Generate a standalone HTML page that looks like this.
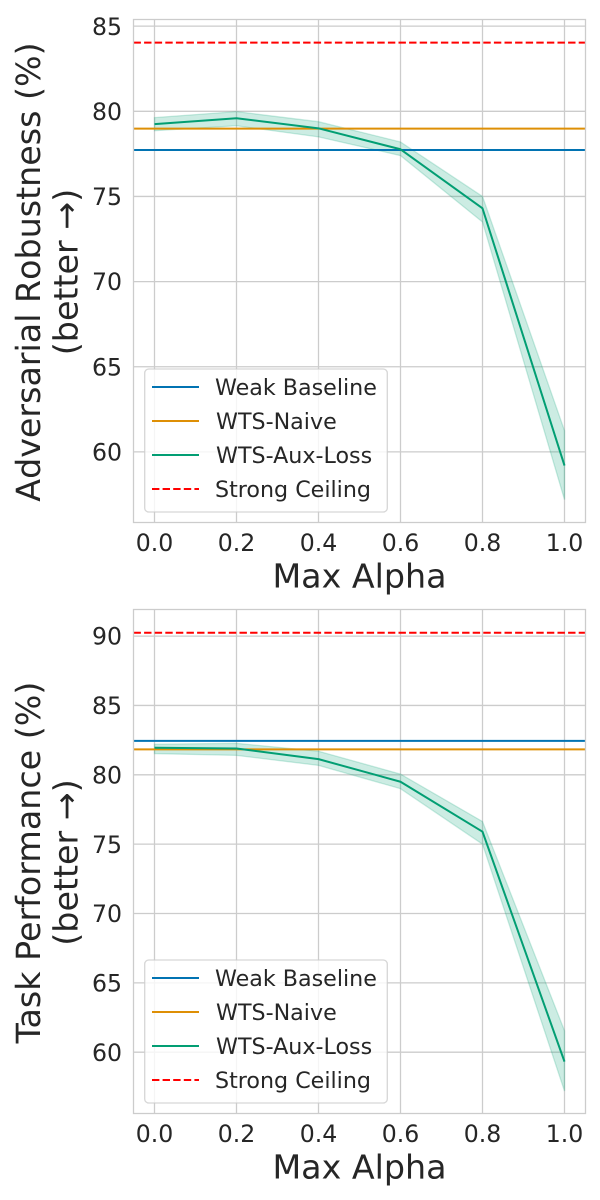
<!DOCTYPE html>
<html>
<head>
<meta charset="utf-8">
<title>Robustness and Performance vs Max Alpha</title>
<style>
html,body{margin:0;padding:0;background:#fff;width:600px;height:1200px;overflow:hidden}
svg{display:block}
text{font-family:"DejaVu Sans","Liberation Sans",sans-serif;fill:#262626}
.ytitle{text-rendering:geometricPrecision}
.nokern{font-kerning:none}
.kern{font-kerning:normal}
</style>
</head>
<body>
<svg id="chart" xmlns="http://www.w3.org/2000/svg" width="600" height="1200" viewBox="0 0 600 1200"></svg>
<script>
const alphas = [0.0, 0.2, 0.4, 0.6, 0.8, 1.0];
const xTickLabels = ["0.0", "0.2", "0.4", "0.6", "0.8", "1.0"];
const legendLabels = ["Weak Baseline", "WTS-Naive", "WTS-Aux-Loss", "Strong Ceiling"];

const robustnessTicks = [60, 65, 70, 75, 80, 85];
const robustnessMean = [79.25, 79.59, 79.0, 77.77, 74.3, 59.2];
const robustnessUpper = [79.63, 79.98, 79.39, 78.2, 75.0, 61.25];
const robustnessLower = [78.86, 79.15, 78.5, 77.4, 73.5, 57.2];
const robustnessWeak = 77.73;
const robustnessNaive = 78.98;
const robustnessCeiling = 84.03;

const performanceTicks = [60, 65, 70, 75, 80, 85, 90];
const performanceMean = [81.95, 81.9, 81.13, 79.5, 75.9, 59.32];
const performanceUpper = [82.2, 82.27, 81.7, 80.05, 76.63, 61.55];
const performanceLower = [81.53, 81.4, 80.68, 79.0, 75.0, 57.2];
const performanceWeak = 82.45;
const performanceNaive = 81.83;
const performanceCeiling = 90.24;

const svg = document.getElementById('chart');
const NS = 'http://www.w3.org/2000/svg';
const BLUE = '#0173b2', ORANGE = '#de8f05', GREEN = '#029e73', RED = '#ff0000', GRID = '#cccccc';

function make(parent, tag, attrs, txt) {
  const n = document.createElementNS(NS, tag);
  for (const k in attrs) n.setAttribute(k, attrs[k]);
  if (txt !== undefined) n.textContent = txt;
  parent.appendChild(n);
  return n;
}

function drawPanel(p) {
  const left = 133.5, right = 585.5;
  const xScale = v => 154.5 + v * 410;
  const yScale = v => p.y80 + (80 - v) * p.pxPerUnit;

  const g = make(svg, 'g', {});
  
  

  alphas.forEach((a, i) => {
    const x = Math.round(xScale(a) - 0.5) + 0.5;
    const line = make(g, 'line', {x1: x, x2: x, y1: p.top, y2: p.bottom, stroke: GRID, 'stroke-width': 1.3});
    
    
    const label = make(g, 'text', {x: xScale(a), y: p.bottom + 28.5, 'font-size': 23.6, 'text-anchor': 'middle'}, xTickLabels[i]);
    
    
  });

  p.ticks.forEach(t => {
    const y = yScale(t);
    const line = make(g, 'line', {x1: left, x2: right, y1: y, y2: y, stroke: GRID, 'stroke-width': 1.3});
    
    
    const label = make(g, 'text', {x: 122, y: y + 8.6, 'font-size': 23.6, 'text-anchor': 'end'}, String(t));
    
    
  });

  const upperPts = alphas.map((a, i) => xScale(a) + ',' + yScale(p.upper[i]));
  const lowerPts = alphas.map((a, i) => xScale(a) + ',' + yScale(p.lower[i])).reverse();
  const band = make(g, 'polygon', {points: upperPts.concat(lowerPts).join(' '), fill: GREEN, 'fill-opacity': 0.2, stroke: GREEN, 'stroke-opacity': 0.2, 'stroke-width': 1.3});
  
  

  const weak = make(g, 'line', {x1: left, x2: right, y1: yScale(p.weak), y2: yScale(p.weak), stroke: BLUE, 'stroke-width': 2});
  
  

  const naive = make(g, 'line', {x1: left, x2: right, y1: yScale(p.naive), y2: yScale(p.naive), stroke: ORANGE, 'stroke-width': 2});
  
  

  const mean = make(g, 'polyline', {points: alphas.map((a, i) => xScale(a) + ',' + yScale(p.mean[i])).join(' '), fill: 'none', stroke: GREEN, 'stroke-width': 2, 'stroke-linejoin': 'round'});
  
  

  const ceiling = make(g, 'line', {x1: left, x2: right, y1: yScale(p.ceiling), y2: yScale(p.ceiling), stroke: RED, 'stroke-width': 2, 'stroke-dasharray': '7.4 3.2'});
  
  

  const frame = make(g, 'rect', {x: left, y: p.top, width: right - left, height: p.bottom - p.top, fill: 'none', stroke: GRID, 'stroke-width': 1.3});
  
  

  const legend = make(g, 'g', {});
  
  
  const legendTop = p.bottom - 153.5;
  const box = make(legend, 'rect', {x: 144.7, y: legendTop, width: 242.6, height: 143, rx: 4, fill: '#ffffff', 'fill-opacity': 0.8, stroke: GRID, 'stroke-opacity': 0.8, 'stroke-width': 1.3});
  
  
  const legendColors = [BLUE, ORANGE, GREEN, RED];
  const legendTextX = [215, 216, 216, 215];
  legendLabels.forEach((lab, i) => {
    const y = legendTop + 18 + i * 34;
    const attrs = {x1: 152, x2: 199, y1: y, y2: y, stroke: legendColors[i], 'stroke-width': 2};
    if (i === 3) attrs['stroke-dasharray'] = '7.4 3.2';
    const handle = make(legend, 'line', attrs);
    
    
    const text = make(legend, 'text', {x: legendTextX[i], y: y + 8, 'font-size': 22.2}, lab);
    
    
  });

  const xTitle = make(g, 'text', {x: 359.5, y: p.bottom + 65, 'font-size': 33.3, 'text-anchor': 'middle'}, 'Max Alpha');
  
  

  const cy = (p.top + p.bottom) / 2 + 1;
  const yTitle1 = make(g, 'text', {class: 'ytitle ' + p.titleKerning, transform: 'translate(40,' + cy + ') rotate(-90)', 'font-size': 33.3, 'text-anchor': 'middle'}, p.title);
  
  
  const yTitle2 = make(g, 'text', {class: 'ytitle kern', transform: 'translate(77.5,' + cy + ') rotate(-90)', 'font-size': 33.3, 'text-anchor': 'middle'}, '(better →)');
  
  
}

drawPanel({name: 'robustness', top: 19.5, bottom: 522.5, y80: 111.3, pxPerUnit: 17.03,
  ticks: robustnessTicks, mean: robustnessMean, upper: robustnessUpper, lower: robustnessLower,
  weak: robustnessWeak, naive: robustnessNaive, ceiling: robustnessCeiling,
  title: 'Adversarial Robustness (%)', titleKerning: 'nokern'});
drawPanel({name: 'performance', top: 609.5, bottom: 1113.5, y80: 774.8, pxPerUnit: 13.87,
  ticks: performanceTicks, mean: performanceMean, upper: performanceUpper, lower: performanceLower,
  weak: performanceWeak, naive: performanceNaive, ceiling: performanceCeiling,
  title: 'Task Performance (%)', titleKerning: 'kern'});
</script>
</body>
</html>
